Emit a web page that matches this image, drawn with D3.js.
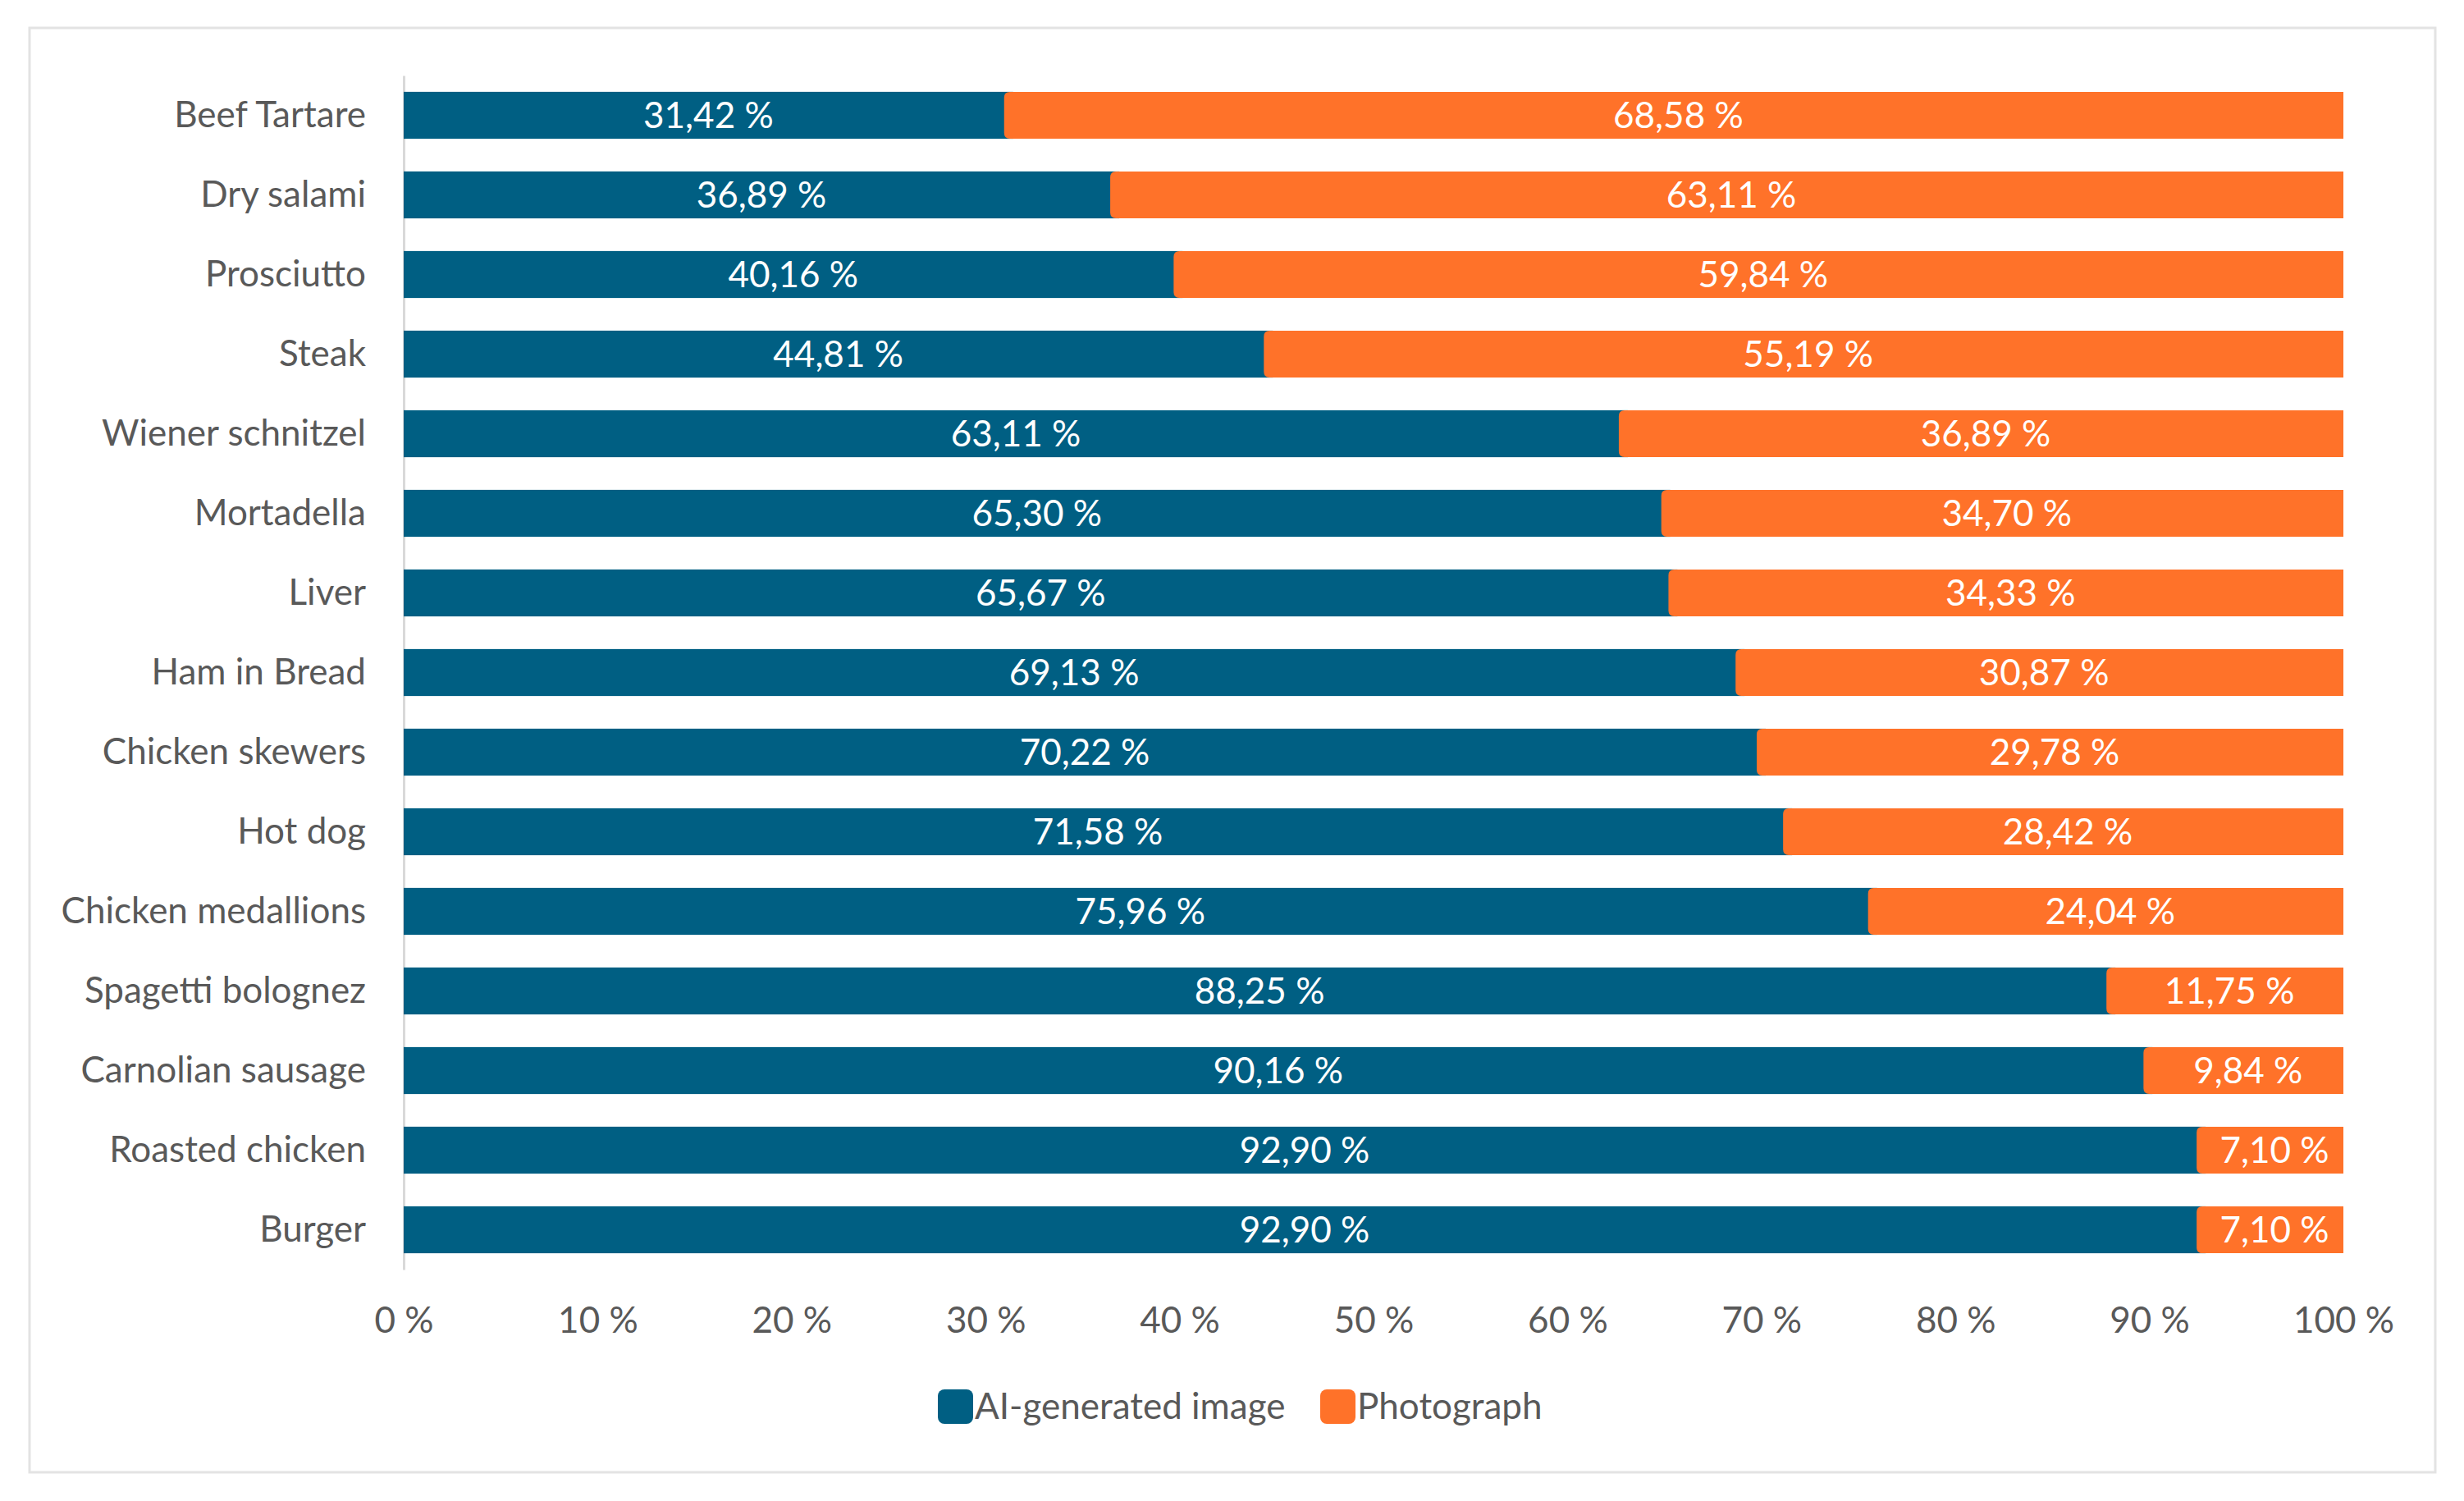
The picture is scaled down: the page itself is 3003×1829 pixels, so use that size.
<!DOCTYPE html>
<html>
<head>
<meta charset="utf-8">
<script src="https://cdn.jsdelivr.net/npm/d3@7"></script>
<style>
  body { margin: 0; background: #fff; }
  text { font-family: Lato, "Open Sans", sans-serif; }
</style>
</head>
<body>
<div class="graph"></div>
<script>
let w = 3003;
let h = 1829;

// data
let foods = ["Beef Tartare", "Dry salami", "Prosciutto", "Steak", "Wiener schnitzel",
  "Mortadella", "Liver", "Ham in Bread", "Chicken skewers", "Hot dog",
  "Chicken medallions", "Spagetti bolognez", "Carnolian sausage", "Roasted chicken", "Burger"];
let aiShare = [31.42, 36.89, 40.16, 44.81, 63.11, 65.30, 65.67, 69.13, 70.22, 71.58, 75.96, 88.25, 90.16, 92.90, 92.90];
let photoShare = [68.58, 63.11, 59.84, 55.19, 36.89, 34.70, 34.33, 30.87, 29.78, 28.42, 24.04, 11.75, 9.84, 7.10, 7.10];
let xTicks = [0, 10, 20, 30, 40, 50, 60, 70, 80, 90, 100];
let seriesNames = ["AI-generated image", "Photograph"];
let colors = ["#005f83", "#ff7229"];

let gray = "#595959";
let fontSize = 44;

let svgvar = d3.select(".graph").append("svg")
  .attr("width", w)
  .attr("height", h);

svgvar.append("rect")
  .attr("x", 36).attr("y", 34)
  .attr("width", 2932).attr("height", 1760)
  .attr("fill", "#fff")
  .attr("stroke", "#e3e3e3")
  .attr("stroke-width", 3);

let xScale = d3.scaleLinear().domain([0, 100]).range([492, 2856]);
let yScale = d3.scaleBand().domain(foods).range([92, 1547])
  .paddingInner(0.41).paddingOuter(0.205);

let fmt = v => d3.format(".2f")(v).replace(".", ",") + " %";

// y axis
let yAxis = d3.axisLeft(yScale).tickSize(0).tickSizeOuter(0).tickPadding(46);
let yg = svgvar.append("g")
  .attr("transform", "translate(492, 0)")
  .call(yAxis);
yg.select(".domain").attr("stroke", "#d9d9d9").attr("stroke-width", 3);
yg.selectAll("text")
  .attr("fill", gray)
  .style("font-size", fontSize + "px");

// x axis
let xAxis = d3.axisBottom(xScale).tickValues(xTicks).tickSize(0)
  .tickFormat(d => d + " %");
let xg = svgvar.append("g")
  .attr("transform", "translate(0, 1609)")
  .call(xAxis);
xg.select(".domain").remove();
xg.selectAll("text")
  .attr("y", 0)
  .attr("dy", "0.35em")
  .attr("fill", gray)
  .style("font-size", fontSize + "px");

let bh = yScale.bandwidth();

// AI segments
svgvar.append("g").selectAll("rect")
  .data(foods)
  .enter()
  .append("rect")
  .attr("x", xScale(0))
  .attr("y", d => yScale(d))
  .attr("width", (d, i) => xScale(aiShare[i]) - xScale(0))
  .attr("height", bh)
  .attr("fill", colors[0]);

// photograph segments: they overlap the blue a little, with round left corners
let r = 7;
let overlap = 11;
svgvar.append("g").selectAll("path")
  .data(foods)
  .enter()
  .append("path")
  .attr("d", function (d, i) {
    let x0 = xScale(aiShare[i]) - overlap;
    let x1 = xScale(aiShare[i] + photoShare[i]);
    let y0 = yScale(d);
    let y1 = y0 + bh;
    return "M" + (x0 + r) + "," + y0 + "H" + x1 + "V" + y1 + "H" + (x0 + r) +
      "Q" + x0 + "," + y1 + " " + x0 + "," + (y1 - r) + "V" + (y0 + r) +
      "Q" + x0 + "," + y0 + " " + (x0 + r) + "," + y0 + "Z";
  })
  .attr("fill", colors[1]);

// value labels
let labels = svgvar.append("g")
  .attr("fill", "#fff")
  .style("font-size", fontSize + "px")
  .attr("text-anchor", "middle");
foods.forEach(function (f, i) {
  let yc = yScale(f) + bh / 2;
  labels.append("text")
    .attr("x", (xScale(0) + xScale(aiShare[i])) / 2)
    .attr("y", yc)
    .attr("dy", "0.35em")
    .text(fmt(aiShare[i]));
  labels.append("text")
    .attr("x", (xScale(aiShare[i]) + xScale(aiShare[i] + photoShare[i])) / 2)
    .attr("y", yc)
    .attr("dy", "0.35em")
    .text(fmt(photoShare[i]));
});

// legend
let legendX = [1143, 1609];
let legend = svgvar.append("g").selectAll("g")
  .data(seriesNames)
  .enter()
  .append("g")
  .attr("transform", (d, i) => "translate(" + legendX[i] + ", 1714)");
legend.append("rect")
  .attr("x", 0).attr("y", -21)
  .attr("width", 43).attr("height", 42)
  .attr("rx", 8)
  .attr("fill", (d, i) => colors[i]);
legend.append("text")
  .attr("x", 45)
  .attr("dy", "0.35em")
  .attr("fill", gray)
  .style("font-size", fontSize + "px")
  .text(d => d);
</script>
</body>
</html>
